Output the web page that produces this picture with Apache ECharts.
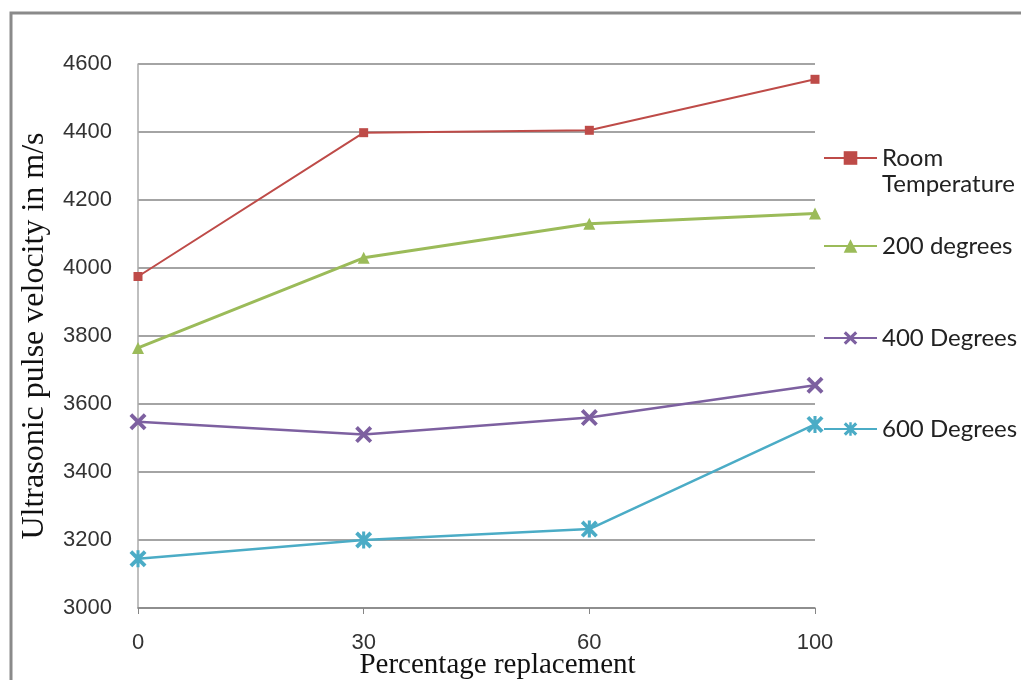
<!DOCTYPE html>
<html><head><meta charset="utf-8">
<script src="https://cdn.jsdelivr.net/npm/echarts@6/dist/echarts.min.js"></script>
<style>html,body{margin:0;padding:0;background:#fff}#c{width:1021px;height:680px}</style>
</head><body><div id="c"></div>
<script>
const categories = ['0', '30', '60', '100'];
const roomTemp = [3975, 4398, 4405, 4555];
const deg200 = [3765, 4030, 4130, 4160];
const deg400 = [3548, 3510, 3560, 3655];
const deg600 = [3145, 3200, 3232, 3540];
const seriesNames = ['Room', '200 degrees', '400 Degrees', '600 Degrees'];
const yTicks = {min: 3000, max: 4600, interval: 200};

const xPath = 'path://M0,1.6L1.6,0L5,3.4L8.4,0L10,1.6L6.6,5L10,8.4L8.4,10L5,6.6L1.6,10L0,8.4L3.4,5Z';
const starPath = 'path://M0,1.6L1.6,0L5,3.4L8.4,0L10,1.6L6.6,5L10,8.4L8.4,10L5,6.6L1.6,10L0,8.4L3.4,5Z M4.1,0L5.9,0L5.9,10L4.1,10Z';

const colors = ['#BE4B48', '#9BBB59', '#7D60A0', '#4BACC6'];
const chart = echarts.init(document.getElementById('c'));
function mk(name, data, color, symbol, size, width) {
  return {name, type: 'line', data, symbol, symbolSize: size, showSymbol: true,
    lineStyle: {color, width}, itemStyle: {color, borderWidth: 0}, z: 3};
}
const legendBase = {orient: 'vertical', left: 818, itemWidth: 53, itemHeight: 17,
  textStyle: {fontFamily: 'Lato', fontSize: 24, color: '#222'}, itemGap: 4, selectedMode: false};
chart.setOption({
  animation: false,
  grid: {left: 138, right: 206, top: 64, bottom: 72, containLabel: false, outerBoundsMode: 'none'},
  graphic: [
    {type: 'rect', shape: {x: 11, y: 13, width: 1030, height: 700}, style: {fill: 'none', stroke: '#8a8a8a', lineWidth: 3}, silent: true, z: -10},
    {type: 'text', left: 882, top: 172, style: {text: 'Temperature', fontFamily: 'Lato', fontSize: 24, fill: '#222'}}
  ],
  legend: [
    Object.assign({}, legendBase, {top: 141, data: [seriesNames[0]]}),
    Object.assign({}, legendBase, {top: 229, data: [seriesNames[1]]}),
    Object.assign({}, legendBase, {top: 321, data: [seriesNames[2]]}),
    Object.assign({}, legendBase, {top: 412, data: [seriesNames[3]]})
  ],
  xAxis: {
    type: 'category', data: categories, boundaryGap: false,
    name: 'Percentage replacement', nameLocation: 'middle', nameGap: 43, nameMoveOverlap: false,
    nameTextStyle: {fontFamily: 'Liberation Serif', fontSize: 29, color: '#111', padding: [0, 0, 0, 42]},
    axisLine: {lineStyle: {color: '#868686', width: 1.5}},
    axisTick: {show: true, length: 6, lineStyle: {color: '#868686'}},
    axisLabel: {fontFamily: 'Liberation Sans', fontSize: 22, color: '#333', margin: 24},
    splitLine: {show: false}
  },
  yAxis: {
    type: 'value', min: yTicks.min, max: yTicks.max, interval: yTicks.interval,
    name: 'Ultrasonic pulse velocity in m/s', nameLocation: 'middle', nameGap: 87, nameMoveOverlap: false,
    nameTextStyle: {fontFamily: 'Liberation Serif', fontSize: 32, color: '#111'},
    axisLine: {show: true, lineStyle: {color: '#aaaaaa', width: 1.5}},
    axisTick: {show: false},
    axisLabel: {fontFamily: 'Liberation Sans', fontSize: 22, color: '#333', margin: 26, formatter: v => String(v)},
    splitLine: {lineStyle: {color: '#868686', width: 1.5}}
  },
  series: [
    mk(seriesNames[0], roomTemp, colors[0], 'rect', 9, 2),
    mk(seriesNames[1], deg200, colors[1], 'triangle', 12, 3),
    mk(seriesNames[2], deg400, colors[2], xPath, 17, 2.5),
    mk(seriesNames[3], deg600, colors[3], starPath, 17, 2.5)
  ]
});
</script></body></html>
